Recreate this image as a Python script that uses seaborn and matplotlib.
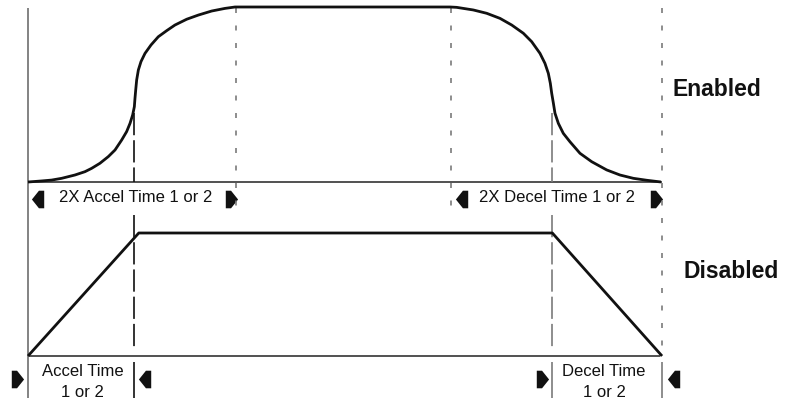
import numpy as np
import pandas as pd
import matplotlib
matplotlib.use("Agg")
import matplotlib.pyplot as plt
import seaborn as sns

### DATA (time in s, speed in % of max) ###
# enabled: S-curve speed profile
enabled_t = [0.0, 0.13, 0.224, 0.319, 0.445, 0.540, 0.603, 0.682, 0.761, 0.825, 0.888, 0.935, 0.967, 0.992,
             1.008, 1.014, 1.021, 1.030, 1.046, 1.071, 1.109, 1.166, 1.235, 1.315, 1.393, 1.504, 1.615,
             1.741, 1.867, 1.962, 2.0,
             4.0, 4.063, 4.221, 4.348, 4.474, 4.585, 4.695, 4.774, 4.853, 4.900, 4.932, 4.951, 4.964,
             4.980, 4.995, 5.027, 5.074, 5.137, 5.232, 5.343, 5.485, 5.611, 5.738, 5.864, 6.0]
enabled_speed = [0.0, 0.6, 1.1, 2.1, 4.0, 5.9, 7.8, 10.7, 14.5, 18.3, 24.0, 28.8, 33.5, 38.3,
                 43.0, 47.8, 52.6, 58.3, 64.0, 68.8, 73.5, 78.3, 83.0, 86.5, 89.7, 93.0, 95.4,
                 97.7, 99.2, 100.0, 100.0,
                 100.0, 99.8, 98.3, 96.4, 93.5, 89.7, 85.0, 80.2, 73.5, 67.8, 62.1, 56.4, 50.7,
                 45.0, 39.3, 33.5, 27.8, 23.0, 16.4, 11.6, 6.9, 4.0, 2.1, 1.0, 0.0]
# disabled: linear ramp
disabled_t = [0.0, 1.05, 4.97, 6.01]
disabled_speed = [0.0, 100.0, 100.0, 0.0]
# event times
t_accel = 1.0
t_2x_accel = 1.97
t_2x_decel = 4.01
t_decel = 4.97
t_end = 6.01
row_labels = ["Enabled", "Disabled"]
span_labels = ["2X Accel Time 1 or 2", "2X Decel Time 1 or 2", "Accel Time\n1 or 2", "Decel Time\n1 or 2"]

### STYLE ###
sns.set_theme(style="white")
plt.rcParams["font.family"] = ["Liberation Sans", "DejaVu Sans"]
plt.rcParams["lines.scale_dashes"] = False

W, H = 789, 401
PX = 105.5   # pixels per second
X0 = 28      # pixel of t=0
xlim = (-X0 / PX, (W - X0) / PX)

fig = plt.figure(figsize=(W / 100, H / 100), dpi=100)

def band(top_px, bottom_px):
    ax = fig.add_axes([0, 1 - bottom_px / H, 1, (bottom_px - top_px) / H])
    ax.set_xlim(xlim)
    ax.set_ylim(0, 100)
    ax.set_axis_off()
    ax.patch.set_alpha(0)
    return ax

# overlay in (time, pixel-row) coords for guides and labels
ov = fig.add_axes([0, 0, 1, 1])
ov.set_xlim(xlim)
ov.set_ylim(H, 0)
ov.set_axis_off()

ax_en = band(7, 182)
ax_dis = band(233, 356)

# CURVES
sns.lineplot(x=enabled_t, y=enabled_speed, ax=ax_en, color="#111111", linewidth=2.0,
             estimator=None, sort=False)
sns.lineplot(x=disabled_t, y=disabled_speed, ax=ax_dis, color="#111111", linewidth=2.0,
             estimator=None, sort=False)
for a in (ax_en, ax_dis):
    for ln in a.lines:
        ln.set_clip_on(False)
        ln.set_solid_capstyle("butt")
        ln.set_solid_joinstyle("round")

# BASELINES + LEFT AXIS
gray = "#7a7a7a"
ov.hlines(182, 0, t_end, color="#222222", linewidth=1.1)
ov.hlines(356, 0, t_end - 0.02, color="#222222", linewidth=1.1)
ov.vlines(0, 8, 398, color=gray, linewidth=1.3)

# GUIDES
short = (0, (3.6, 9.0))
long_ = (0, (16.0, 3.6))
for t in (t_2x_accel, t_2x_decel):
    ov.vlines(t, 8, 212, color=gray, linewidth=1.2, linestyles=[short])
ov.vlines(t_end, 8, 352, color=gray, linewidth=1.2, linestyles=[short])
ov.vlines(t_end, 362, 398, color=gray, linewidth=1.2)
for t, c in ((t_accel, "#111111"), (t_decel, gray)):
    ov.vlines(t, 113, 182, color=c, linewidth=1.2, linestyles=[long_])
    ov.vlines(t, 215, 350, color=c, linewidth=1.2, linestyles=[long_])
    ov.vlines(t, 362, 398, color=c, linewidth=1.2)

# ARROWHEADS
left_head = [(-0.75, 0), (0.05, 1), (0.65, 1), (0.65, -1), (0.05, -1), (-0.75, 0)]
right_head = [(-x, y) for x, y in left_head]
def head(t, y, verts):
    ov.scatter([t], [y], marker=verts, s=160, color="#111111", linewidths=0)

head(0 + 0.095, 199, left_head)
head(t_2x_accel - 0.05, 199, right_head)
head(t_2x_decel + 0.1, 199, left_head)
head(t_end - 0.06, 199, right_head)
head(0 - 0.105, 379, right_head)
head(t_accel + 0.11, 379, left_head)
head(t_decel - 0.1, 379, right_head)
head(t_end + 0.11, 379, left_head)

# LABELS
fs = 12
ov.text((0 + t_2x_accel) / 2 + 0.04, 198, span_labels[0], ha="center", va="center", fontsize=fs, color="#111111")
ov.text((t_2x_decel + t_end) / 2, 198, span_labels[1], ha="center", va="center", fontsize=fs, color="#111111")
ov.text((0 + t_accel) / 2 + 0.02, 382, span_labels[2], ha="center", va="center", fontsize=fs,
        color="#111111", linespacing=1.45)
ov.text((t_decel + t_end) / 2 - 0.03, 382, span_labels[3], ha="center", va="center", fontsize=fs,
        color="#111111", linespacing=1.45)
ov.text(t_end + 0.1, 90, row_labels[0], ha="left", va="center", fontsize=16.5, fontweight="bold",
        color="#111111")
ov.text(t_end + 0.2, 272, row_labels[1], ha="left", va="center", fontsize=16.5, fontweight="bold",
        color="#111111")

fig.savefig("out.png", dpi=100)
